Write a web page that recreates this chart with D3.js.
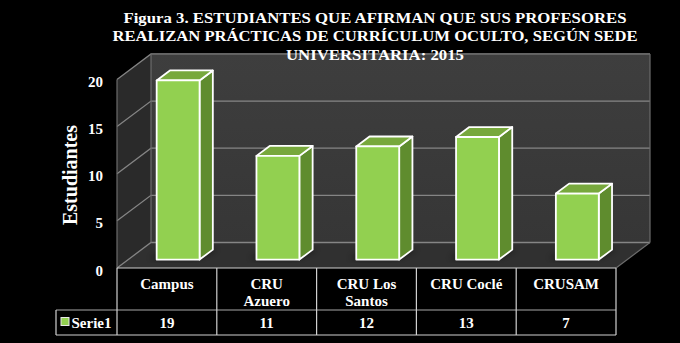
<!DOCTYPE html>
<html>
<head>
<meta charset="utf-8">
<script src="https://cdn.jsdelivr.net/npm/d3@7/dist/d3.min.js"></script>
<style>
  html, body { margin: 0; padding: 0; background: #000; }
  svg { display: block; }
  text { font-family: "Liberation Serif", "Times New Roman", serif; font-weight: bold; fill: #fff; }
</style>
</head>
<body>
<svg id="chart" width="680" height="343"></svg>
<script>
// ---- data ----
const titleLines = [
  "Figura 3. ESTUDIANTES QUE AFIRMAN QUE SUS PROFESORES",
  "REALIZAN PRÁCTICAS DE CURRÍCULUM OCULTO, SEGÚN SEDE",
  "UNIVERSITARIA: 2015"
];
const categories = ["Campus", "CRU Azuero", "CRU Los Santos", "CRU Coclé", "CRUSAM"];
const categoryLabelLines = [["Campus"], ["CRU", "Azuero"], ["CRU Los", "Santos"], ["CRU Coclé"], ["CRUSAM"]];
const seriesName = "Serie1";
const values = [19, 11, 12, 13, 7];
const yTicks = [0, 5, 10, 15, 20];
const yTitle = "Estudiantes";

// ---- layout ----
const W = 680, H = 343;
const plotLeft = 117, plotRight = 616, floorY = 268, topY = 79.4;
const DX = 34, DY = -25.5;          // offset of back wall (depth = 1)
const z0 = 0.33, z1 = 0.72;         // depth of bars

const svg = d3.select("#chart");
svg.append("rect").attr("width", W).attr("height", H).attr("fill", "#000");

const x = d3.scaleBand().domain(categories).range([plotLeft, plotRight])
  .paddingInner(0.57).paddingOuter(0.285);
const y = d3.scaleLinear().domain([0, 20]).range([floorY, topY]);
const step = x.step();

const P = (px, v, z) => [px + z * DX, y(v) + z * DY];
const poly = pts => "M" + pts.map(p => p.join(",")).join("L") + "Z";

const defs = svg.append("defs");
defs.append("filter").attr("id", "blur").attr("x", "-50%").attr("y", "-50%").attr("width", "200%").attr("height", "200%")
  .append("feGaussianBlur").attr("stdDeviation", 3);
defs.append("linearGradient").attr("id", "backGrad").attr("x1", 0).attr("y1", 0).attr("x2", 0).attr("y2", 1)
  .selectAll("stop").data([["0%", "#3e3e3e"], ["100%", "#363636"]]).join("stop")
  .attr("offset", d => d[0]).attr("stop-color", d => d[1]);
defs.append("clipPath").attr("id", "floorClip").append("path")
  .attr("d", poly([P(plotLeft, 0, 0), P(plotRight, 0, 0), P(plotRight, 0, 1), P(plotLeft, 0, 1)]));

// walls
const walls = svg.append("g");
walls.append("path").attr("d", poly([P(plotLeft, 0, 1), P(plotRight, 0, 1), P(plotRight, 20, 1), P(plotLeft, 20, 1)]))
  .attr("fill", "url(#backGrad)");
walls.append("path").attr("d", poly([P(plotLeft, 0, 0), P(plotLeft, 20, 0), P(plotLeft, 20, 1), P(plotLeft, 0, 1)]))
  .attr("fill", "#2a2a2a");
walls.append("path").attr("d", poly([P(plotLeft, 0, 0), P(plotRight, 0, 0), P(plotRight, 0, 1), P(plotLeft, 0, 1)]))
  .attr("fill", "#303030");

// gridlines
const grid = svg.append("g").attr("fill", "none").attr("stroke", "#858585").attr("stroke-width", 1.3);
grid.selectAll("path.g").data(yTicks).join("path")
  .attr("d", v => "M" + [P(plotLeft, v, 0), P(plotLeft, v, 1), P(plotRight, v, 1)].map(p => p.join(",")).join("L"));
// wall edges
const edges = svg.append("g").attr("fill", "none").attr("stroke", "#6c6c6c").attr("stroke-width", 1.2);
edges.append("path").attr("d", "M" + [P(plotLeft, 0, 0), P(plotLeft, 20, 0)].map(p => p.join(",")).join("L"));
edges.append("path").attr("d", "M" + [P(plotLeft, 0, 1), P(plotLeft, 20, 1)].map(p => p.join(",")).join("L"));
edges.append("path").attr("d", "M" + [P(plotRight, 0, 1), P(plotRight, 20, 1)].map(p => p.join(",")).join("L"));
edges.append("path").attr("d", "M" + [P(plotRight, 0, 0), P(plotRight, 0, 1)].map(p => p.join(",")).join("L"));

// shadows
svg.append("g").attr("clip-path", "url(#floorClip)")
  .selectAll("path").data(categories).join("path")
  .attr("d", c => {
    const a = x(c), b = x(c) + x.bandwidth();
    return poly([P(a - 8, 0, z0 + 0.05), P(b - 6, 0, z0 + 0.05), P(b + 4, 0, z1), P(a, 0, z1)]);
  })
  .attr("fill", "#000").attr("opacity", 0.75).attr("filter", "url(#blur)");

// bars
const bars = svg.append("g").attr("stroke", "#fff").attr("stroke-width", 1.8).attr("stroke-linejoin", "round");
const barG = bars.selectAll("g").data(categories.map((c, i) => ({ c, v: values[i] }))).join("g");
barG.append("path").attr("fill", "#5f8c2e")
  .attr("d", d => { const b = x(d.c) + x.bandwidth(); return poly([P(b, d.v, z0), P(b, d.v, z1), P(b, 0, z1), P(b, 0, z0)]); });
barG.append("path").attr("fill", "#77a83c")
  .attr("d", d => { const a = x(d.c), b = a + x.bandwidth(); return poly([P(a, d.v, z0), P(b, d.v, z0), P(b, d.v, z1), P(a, d.v, z1)]); });
barG.append("path").attr("fill", "#92d050")
  .attr("d", d => { const a = x(d.c), b = a + x.bandwidth(); return poly([P(a, d.v, z0), P(b, d.v, z0), P(b, 0, z0), P(a, 0, z0)]); });

// y axis
const yAxis = svg.append("g").attr("transform", `translate(${plotLeft},0)`)
  .call(d3.axisLeft(y).tickValues(yTicks).tickSize(0).tickPadding(14));
yAxis.select(".domain").remove();
yAxis.selectAll("text").attr("fill", "#fff").attr("font-size", 15).attr("dy", "0.47em")
  .attr("font-family", "'Liberation Serif', serif").attr("font-weight", "bold");

svg.append("text").attr("transform", "translate(77,175) rotate(-90)")
  .attr("text-anchor", "middle").attr("font-size", 20).text(yTitle);

// title
const title = svg.append("g");
const titleBase = [22.5, 41, 59.5];
const titleWidths = [503, 525, 178];
titleLines.forEach((t, i) => {
  title.append("text").attr("x", 375).attr("y", titleBase[i]).attr("text-anchor", "middle")
    .attr("font-size", 15).attr("textLength", titleWidths[i]).attr("lengthAdjust", "spacingAndGlyphs").text(t);
});

// data table
const tbl = svg.append("g");
const tTop = floorY, tMid = 310, tBot = 335, tLeft = 56;
const lines = tbl.append("g").attr("stroke", "#d0d0d0").attr("stroke-width", 1.2).attr("fill", "none");
lines.append("path").attr("d", `M${plotLeft},${tTop}H${plotRight}`);
lines.append("path").attr("d", `M${tLeft},${tMid}H${plotRight}`).attr("stroke", "#a8a8a8");
lines.append("path").attr("d", `M${tLeft},${tBot}H${plotRight}`);
lines.append("path").attr("d", `M${tLeft},${tMid}V${tBot}`);
d3.range(categories.length + 1).forEach(i => {
  const px = plotLeft + i * step;
  lines.append("path").attr("d", `M${px},${tTop}V${tBot}`);
});
categories.forEach((c, i) => {
  const cx = plotLeft + (i + 0.5) * step;
  const t = tbl.append("text").attr("x", cx).attr("y", 289).attr("text-anchor", "middle").attr("font-size", 15);
  categoryLabelLines[i].forEach((ln, j) => {
    t.append("tspan").attr("x", cx).attr("dy", j === 0 ? 0 : 16.5).text(ln);
  });
  tbl.append("text").attr("x", cx).attr("y", 328).attr("text-anchor", "middle").attr("font-size", 15).text(values[i]);
});
tbl.append("rect").attr("x", 61).attr("y", 317.5).attr("width", 8).attr("height", 8)
  .attr("fill", "#92d050").attr("stroke", "#e8e8e8").attr("stroke-width", 1);
tbl.append("text").attr("x", 71.5).attr("y", 328).attr("font-size", 15).text(seriesName);
</script>
</body>
</html>
